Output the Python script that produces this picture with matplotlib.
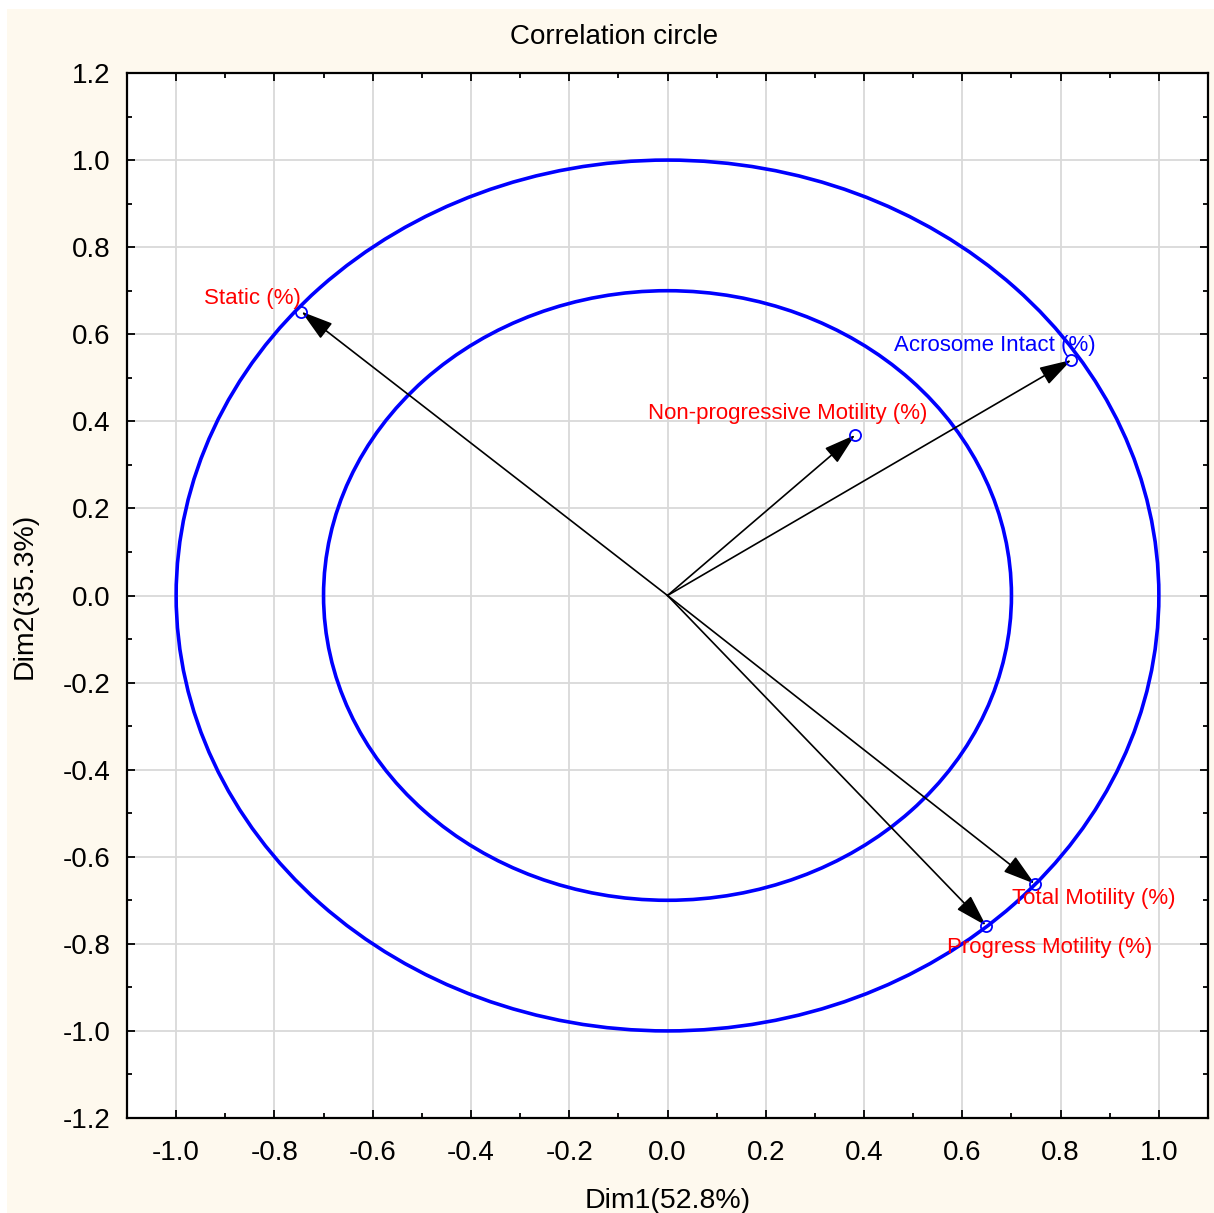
import matplotlib
matplotlib.use("Agg")
import matplotlib.pyplot as plt
from matplotlib.patches import Circle, Rectangle

plt.rcParams['font.family'] = ['Liberation Sans', 'DejaVu Sans']

# --- data (loadings) ---
variables = ["Static (%)", "Acrosome Intact (%)", "Non-progressive Motility (%)",
             "Total Motility (%)", "Progress Motility (%)"]
dim1 = [-0.745, 0.822, 0.382, 0.747, 0.648]
dim2 = [0.652, 0.541, 0.369, -0.662, -0.758]
label_colors = ["#ff0000", "#0000ff", "#ff0000", "#ff0000", "#ff0000"]
# label offsets (pixels) from each point
label_offsets = [(-49, 13), (-77, 14), (-68, 21), (59, -15), (64, -22)]
circle_radii = [1.0, 0.7]

cream = "#fef9ee"

fig = plt.figure(figsize=(12.14, 12.13), dpi=100, facecolor="white")
fig.patches.append(Rectangle((7 / 1214, 0), 1 - 7 / 1214, 1 - 9 / 1213,
                             transform=fig.transFigure, facecolor=cream,
                             edgecolor="none", zorder=-10))

ax = fig.add_axes([127 / 1214, 1 - 1118 / 1213, (1208 - 127) / 1214, (1118 - 73) / 1213])
ax.set_facecolor("white")
ax.set_xlim(-1.1, 1.1)
ax.set_ylim(-1.2, 1.2)

ticks_x = [-1.0, -0.8, -0.6, -0.4, -0.2, 0.0, 0.2, 0.4, 0.6, 0.8, 1.0]
ticks_y = [-1.2, -1.0, -0.8, -0.6, -0.4, -0.2, 0.0, 0.2, 0.4, 0.6, 0.8, 1.0, 1.2]
ax.set_xticks(ticks_x)
ax.set_yticks(ticks_y)
ax.set_xticklabels([f"{t:.1f}" for t in ticks_x])
ax.set_yticklabels([f"{t:.1f}" for t in ticks_y])
ax.set_xticks([t + 0.1 for t in ticks_x[:-1]], minor=True)
ax.set_yticks([t + 0.1 for t in ticks_y[:-1]], minor=True)
ax.tick_params(which="both", direction="in", top=True, right=True, width=1.3,
               labelsize=20)
ax.tick_params(axis="x", pad=16)
ax.tick_params(axis="y", pad=12)
ax.tick_params(which="major", length=6)
ax.tick_params(which="minor", length=3.5)
ax.grid(True, which="major", color="#d9d9d9", lw=1.3)
ax.set_axisbelow(True)
for s in ax.spines.values():
    s.set_linewidth(1.6)

# circles
for r in circle_radii:
    ax.add_patch(Circle((0, 0), r, fill=False, edgecolor="#0000ff", lw=2.6, zorder=2))

# arrows, points and labels
for name, x, y, c, off in zip(variables, dim1, dim2, label_colors, label_offsets):
    ax.annotate("", xy=(x, y), xytext=(0, 0),
                arrowprops=dict(arrowstyle="-|>,head_length=1.0,head_width=0.3",
                                color="black", lw=1.2, shrinkA=0, shrinkB=0,
                                mutation_scale=20), zorder=3)
    ax.plot(x, y, "o", ms=8, mfc="none", mec="#0000ff", mew=1.3, zorder=4)
    ax.annotate(name, xy=(x, y), xytext=off, textcoords="offset pixels",
                ha="center", va="center", color=c, fontsize=16, zorder=5)

fig.text(614 / 1214, 1 - 37 / 1213, "Correlation circle", ha="center", va="center",
         fontsize=20)
ax.set_xlabel("Dim1(52.8%)", fontsize=20.5, labelpad=16)
ax.set_ylabel("Dim2(35.3%)", fontsize=20.5, labelpad=18)

fig.savefig("out.png", dpi=100, facecolor=fig.get_facecolor())
